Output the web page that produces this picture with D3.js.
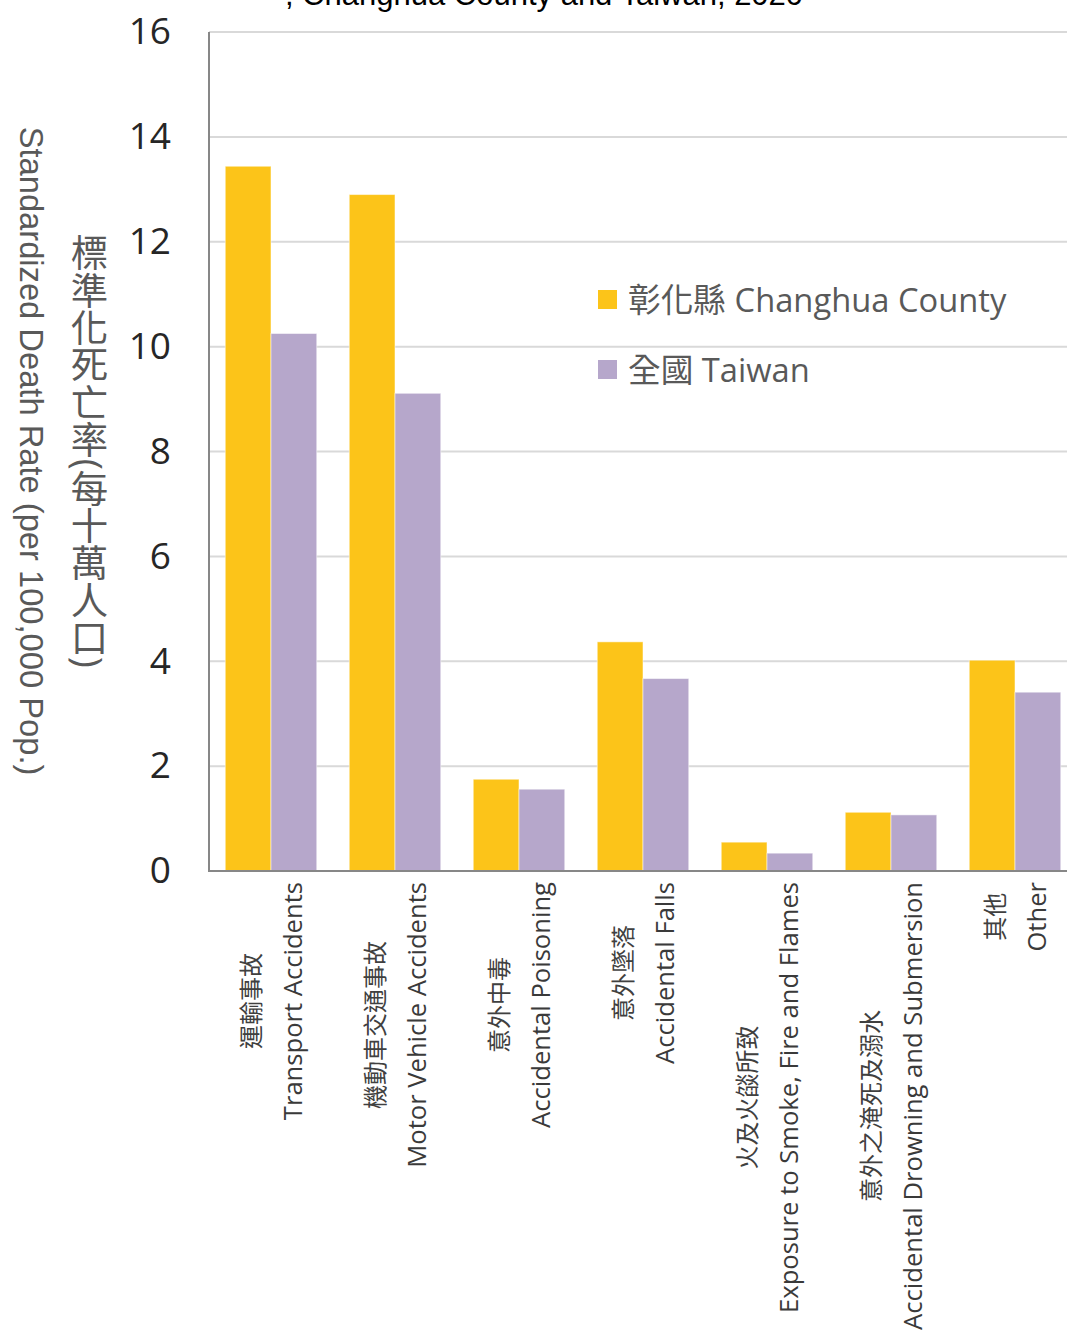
<!DOCTYPE html>
<html>
<head>
<meta charset="utf-8">
<script src="https://cdn.jsdelivr.net/npm/d3@7"></script>
<style>
  body { margin: 0; background: #fff; overflow: hidden; }
  svg { display: block; }
</style>
</head>
<body>
<div id="chart"></div>
<script>
// Standardized accidental death rates, Changhua County vs Taiwan, 2020
const categoriesZh = ['運輸事故', '機動車交通事故', '意外中毒', '意外墜落', '火及火燄所致', '意外之淹死及溺水', '其他'];
const categoriesEn = ['Transport Accidents', 'Motor Vehicle Accidents', 'Accidental Poisoning', 'Accidental Falls',
    'Exposure to Smoke, Fire and Flames', 'Accidental Drowning and Submersion', 'Other'];
const changhua = [13.44, 12.90, 1.75, 4.37, 0.55, 1.12, 4.02];
const taiwan = [10.25, 9.11, 1.56, 3.67, 0.34, 1.07, 3.41];
const seriesNames = ['彰化縣 Changhua County', '全國 Taiwan'];
const seriesColors = ['#FCC419', '#B6A7CB'];
const yTicks = [0, 2, 4, 6, 8, 10, 12, 14, 16];

const width = 1067, height = 1333;
const margin = { top: 32, bottom: 871, left: 209, right: 1077 };
const font = "'Open Sans', 'Noto Sans CJK TC', sans-serif";

const svg = d3.select('#chart').append('svg')
    .attr('width', width)
    .attr('height', height)
    .style('font-family', font);

const x0 = d3.scaleBand()
    .domain(d3.range(categoriesEn.length))
    .range([margin.left, margin.right])
    .paddingInner(0.262)
    .paddingOuter(0.131);
const x1 = d3.scaleBand()
    .domain([0, 1])
    .range([0, x0.bandwidth()]);
const y = d3.scaleLinear()
    .domain([0, 16])
    .range([margin.bottom, margin.top]);

// title (only its last line shows at the top, as in the source)
svg.append('text')
    .attr('x', 544)
    .attr('y', 5)
    .attr('text-anchor', 'middle')
    .attr('font-family', "'Liberation Sans', Arial, sans-serif")
    .attr('font-size', 31)
    .attr('fill', '#000')
    .text(', Changhua County and Taiwan, 2020');

// gridlines
svg.append('g')
    .selectAll('line')
    .data(yTicks.filter(d => d > 0))
    .enter()
    .append('line')
    .attr('x1', margin.left)
    .attr('x2', margin.right)
    .attr('y1', d => y(d))
    .attr('y2', d => y(d))
    .attr('stroke', '#d9d9d9')
    .attr('stroke-width', 2);

// y axis tick labels
const yAxis = svg.append('g')
    .attr('transform', `translate(${margin.left},0)`)
    .call(d3.axisLeft(y).tickValues(yTicks).tickSize(0).tickPadding(38));
yAxis.select('.domain').remove();
yAxis.selectAll('text')
    .attr('font-family', font)
    .attr('font-size', 37)
    .attr('fill', '#262626');

// bars
const series = [changhua, taiwan];
series.forEach((vals, s) => {
    svg.append('g')
        .selectAll('rect')
        .data(vals)
        .enter()
        .append('rect')
        .attr('x', (d, i) => x0(i) + x1(s))
        .attr('y', d => y(d))
        .attr('width', x1.bandwidth())
        .attr('height', d => y(0) - y(d))
        .attr('fill', seriesColors[s])
        .attr('stroke', '#fff')
        .attr('stroke-opacity', 0.5)
        .attr('stroke-width', 1);
});

// axis lines
svg.append('line')
    .attr('x1', margin.left).attr('x2', margin.left)
    .attr('y1', margin.top).attr('y2', margin.bottom + 1)
    .attr('stroke', '#878787').attr('stroke-width', 2);
svg.append('line')
    .attr('x1', margin.left).attr('x2', margin.right)
    .attr('y1', margin.bottom).attr('y2', margin.bottom)
    .attr('stroke', '#878787').attr('stroke-width', 2);

// category labels: two rotated lines, centred on each other, top at 882
categoriesEn.forEach((en, i) => {
    const cx = x0(i) + x0.bandwidth() / 2;
    const g = svg.append('g');
    const zh = g.append('text')
        .attr('text-anchor', 'middle')
        .attr('y', -11.5)
        .attr('font-size', 24)
        .attr('fill', '#404040')
        .text(categoriesZh[i]);
    const t = g.append('text')
        .attr('text-anchor', 'middle')
        .attr('y', 30.5)
        .attr('font-size', 25.6)
        .attr('fill', '#3a3a3a')
        .text(en);
    const len = Math.max(zh.node().getComputedTextLength(), t.node().getComputedTextLength());
    g.attr('transform', `translate(${cx},${882 + len / 2}) rotate(-90)`);
});

// y axis titles
svg.append('text')
    .attr('transform', `translate(20,451) rotate(90)`)
    .attr('text-anchor', 'middle')
    .attr('font-family', "'Liberation Sans', Arial, sans-serif")
    .attr('font-size', 32.7)
    .attr('fill', '#595959')
    .text('Standardized Death Rate (per 100,000 Pop.)');
svg.append('text')
    .attr('x', 88)
    .attr('y', 451)
    .attr('text-anchor', 'middle')
    .style('writing-mode', 'vertical-rl')
    .style('text-orientation', 'mixed')
    .attr('font-size', 37.4)
    .attr('fill', '#595959')
    .text('標準化死亡率(每十萬人口)');

// legend
const legend = svg.append('g')
    .selectAll('g')
    .data(seriesNames)
    .enter()
    .append('g')
    .attr('transform', (d, i) => `translate(598,${290 + i * 70})`);
legend.append('rect')
    .attr('width', 19)
    .attr('height', 19)
    .attr('fill', (d, i) => seriesColors[i]);
legend.append('text')
    .attr('x', 30)
    .attr('y', 22)
    .attr('font-size', 32.7)
    .attr('fill', '#595959')
    .text(d => d);
</script>
</body>
</html>
